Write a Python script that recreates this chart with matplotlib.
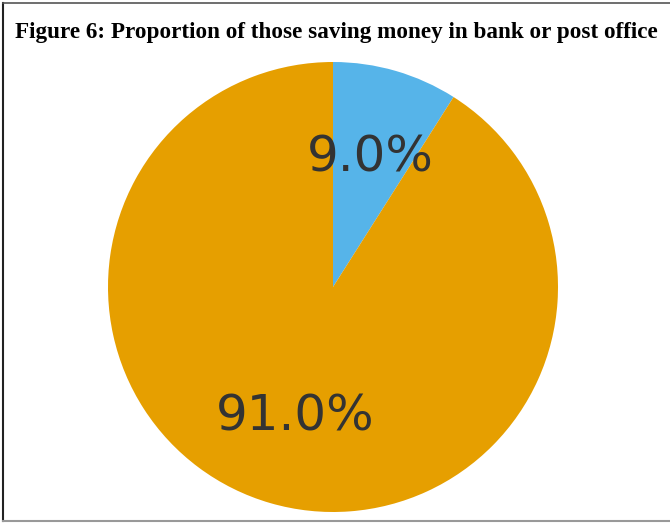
import matplotlib
matplotlib.use("Agg")
import matplotlib.pyplot as plt
from matplotlib.lines import Line2D

labels = ["Yes", "No"]
shares = [9.0, 91.0]
colors = ["#56B4E9", "#E69F00"]
title = "Figure 6: Proportion of those saving money in bank or post office"

fig = plt.figure(figsize=(6.7, 5.23), dpi=100)

# frame around figure (left/top dark, bottom grey)
fig.add_artist(Line2D([0.005, 0.005], [0.004, 0.995], transform=fig.transFigure, color="#222222", lw=1.5))
fig.add_artist(Line2D([0.005, 1.0], [0.995, 0.995], transform=fig.transFigure, color="#555555", lw=1.2))
fig.add_artist(Line2D([0.005, 1.0], [0.004, 0.004], transform=fig.transFigure, color="#999999", lw=1.5))

fig.text(0.502, 0.928, title, ha="center", va="baseline", family="Liberation Serif",
         fontweight="bold", fontsize=16.7)

ax = fig.add_axes([108 / 670, 11 / 523, 450 / 670, 450 / 523])
wedges, texts, autotexts = ax.pie(shares, colors=colors, startangle=90, counterclock=False,
                                  autopct="%1.1f%%", pctdistance=0.6,
                                  textprops={"fontsize": 36, "color": "#333333"})
ax.set_xlim(-1, 1)
ax.set_ylim(-1, 1)
ax.set_aspect("equal")

fig.savefig("out.png", dpi=100)
